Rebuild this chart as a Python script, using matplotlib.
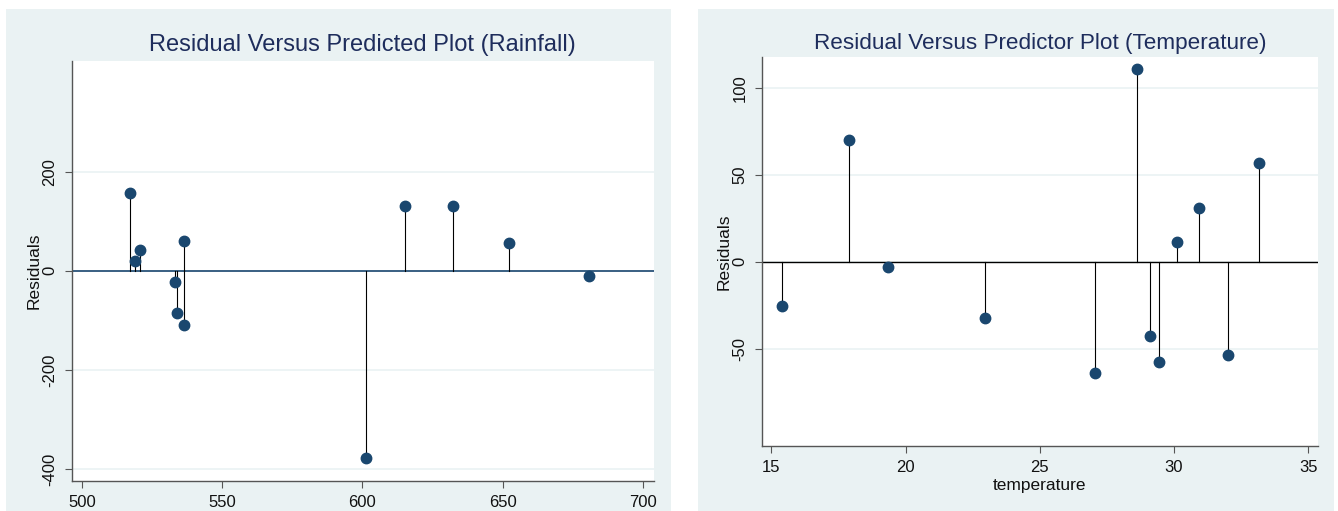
import matplotlib.pyplot as plt
from matplotlib.patches import Rectangle
from matplotlib.font_manager import fontManager

# residuals vs predicted rainfall
predicted = [517.1, 519.0, 520.6, 533.1, 533.8, 536.3, 536.3, 601.2, 615.2, 632.2, 652.3, 680.6]
resid_pred = [156, 19.5, 42, -23, -86, 60, -110, -378.5, 131, 130, 56, -10]

# residuals vs temperature
temperature = [15.38, 17.9, 19.33, 22.97, 27.06, 28.62, 29.1, 29.46, 30.1, 30.94, 32.03, 33.17]
resid_temp = [-25.5, 69.7, -2.9, -32.6, -63.9, 110.9, -42.6, -57.6, 11.1, 31.1, -53.4, 56.8]

left_xticks = [500, 550, 600, 650, 700]
left_yticks = [-400, -200, 0, 200]
right_xticks = [15, 20, 25, 30, 35]
right_yticks = [-50, 0, 50, 100]

names = {f.name for f in fontManager.ttflist}
title_font = 'Liberation Sans Narrow' if 'Liberation Sans Narrow' in names else 'Liberation Sans'
plt.rcParams['font.family'] = 'Liberation Sans'
plt.rcParams['axes.unicode_minus'] = False

BG = '#eaf2f3'
NAVY = '#1a476f'
TITLE = '#1e2d5c'

W, H = 1338, 511
fig = plt.figure(figsize=(W / 100, H / 100), dpi=100)

def px_rect(x0, y0, x1, y1):
    return [x0 / W, 1 - y1 / H, (x1 - x0) / W, (y1 - y0) / H]

# the two panel backgrounds
for x0, x1 in [(6, 671), (698, 1334)]:
    r = px_rect(x0, 9, x1, H)
    fig.patches.append(Rectangle((r[0], r[1]), r[2], r[3], transform=fig.transFigure,
                                 facecolor=BG, edgecolor='none', zorder=-10))

def style(ax, xticks, yticks, xlim, ylim):
    ax.set_facecolor('white')
    ax.set_xlim(*xlim)
    ax.set_ylim(*ylim)
    ax.set_xticks(xticks)
    ax.set_yticks(yticks)
    ax.grid(axis='y', color=BG, linewidth=1.2)
    ax.set_axisbelow(True)
    for s in ['top', 'right']:
        ax.spines[s].set_visible(False)
    for s in ['left', 'bottom']:
        ax.spines[s].set_color('#555555')
        ax.spines[s].set_linewidth(1.0)
    ax.tick_params(axis='both', length=5, width=0.8, pad=5, color='#555555', labelsize=12,
                   labelcolor='#111111')
    for lab in ax.get_yticklabels():
        lab.set_rotation(90)
        lab.set_va('center')
    ax.set_ylabel('Residuals', fontsize=12.5, color='#111111')

def stems(ax, xs, ys):
    for x, y in zip(xs, ys):
        ax.plot([x, x], [0, y], color='black', linewidth=0.8, zorder=2)
    ax.plot(xs, ys, 'o', color=NAVY, markersize=7.5, zorder=3)

# left panel
ax1 = fig.add_axes(px_rect(71.5, 61, 654, 481))
style(ax1, left_xticks, left_yticks, (496.3, 703.9), (-424, 423))
ax1.axhline(0, color=NAVY, linewidth=1.2, zorder=2)
stems(ax1, predicted, resid_pred)
ax1.set_title('Residual Versus Predicted Plot (Rainfall)', fontsize=17, color=TITLE,
              family=title_font, pad=7)
ax1.yaxis.set_label_coords(-0.0515, 0.5)

# right panel
ax2 = fig.add_axes(px_rect(761.5, 57, 1318, 446))
style(ax2, right_xticks, right_yticks, (14.63, 35.37), (-105.9, 117.6))
ax2.axhline(0, color='black', linewidth=1.0, zorder=2)
stems(ax2, temperature, resid_temp)
ax2.set_title('Residual Versus Predictor Plot (Temperature)', fontsize=16.2, color=TITLE,
              family=title_font, pad=6)
ax2.set_xlabel('temperature', fontsize=12.5, color='#111111', labelpad=2)
ax2.yaxis.set_label_coords(-0.053, 0.5)

fig.savefig('out.png', dpi=100)
